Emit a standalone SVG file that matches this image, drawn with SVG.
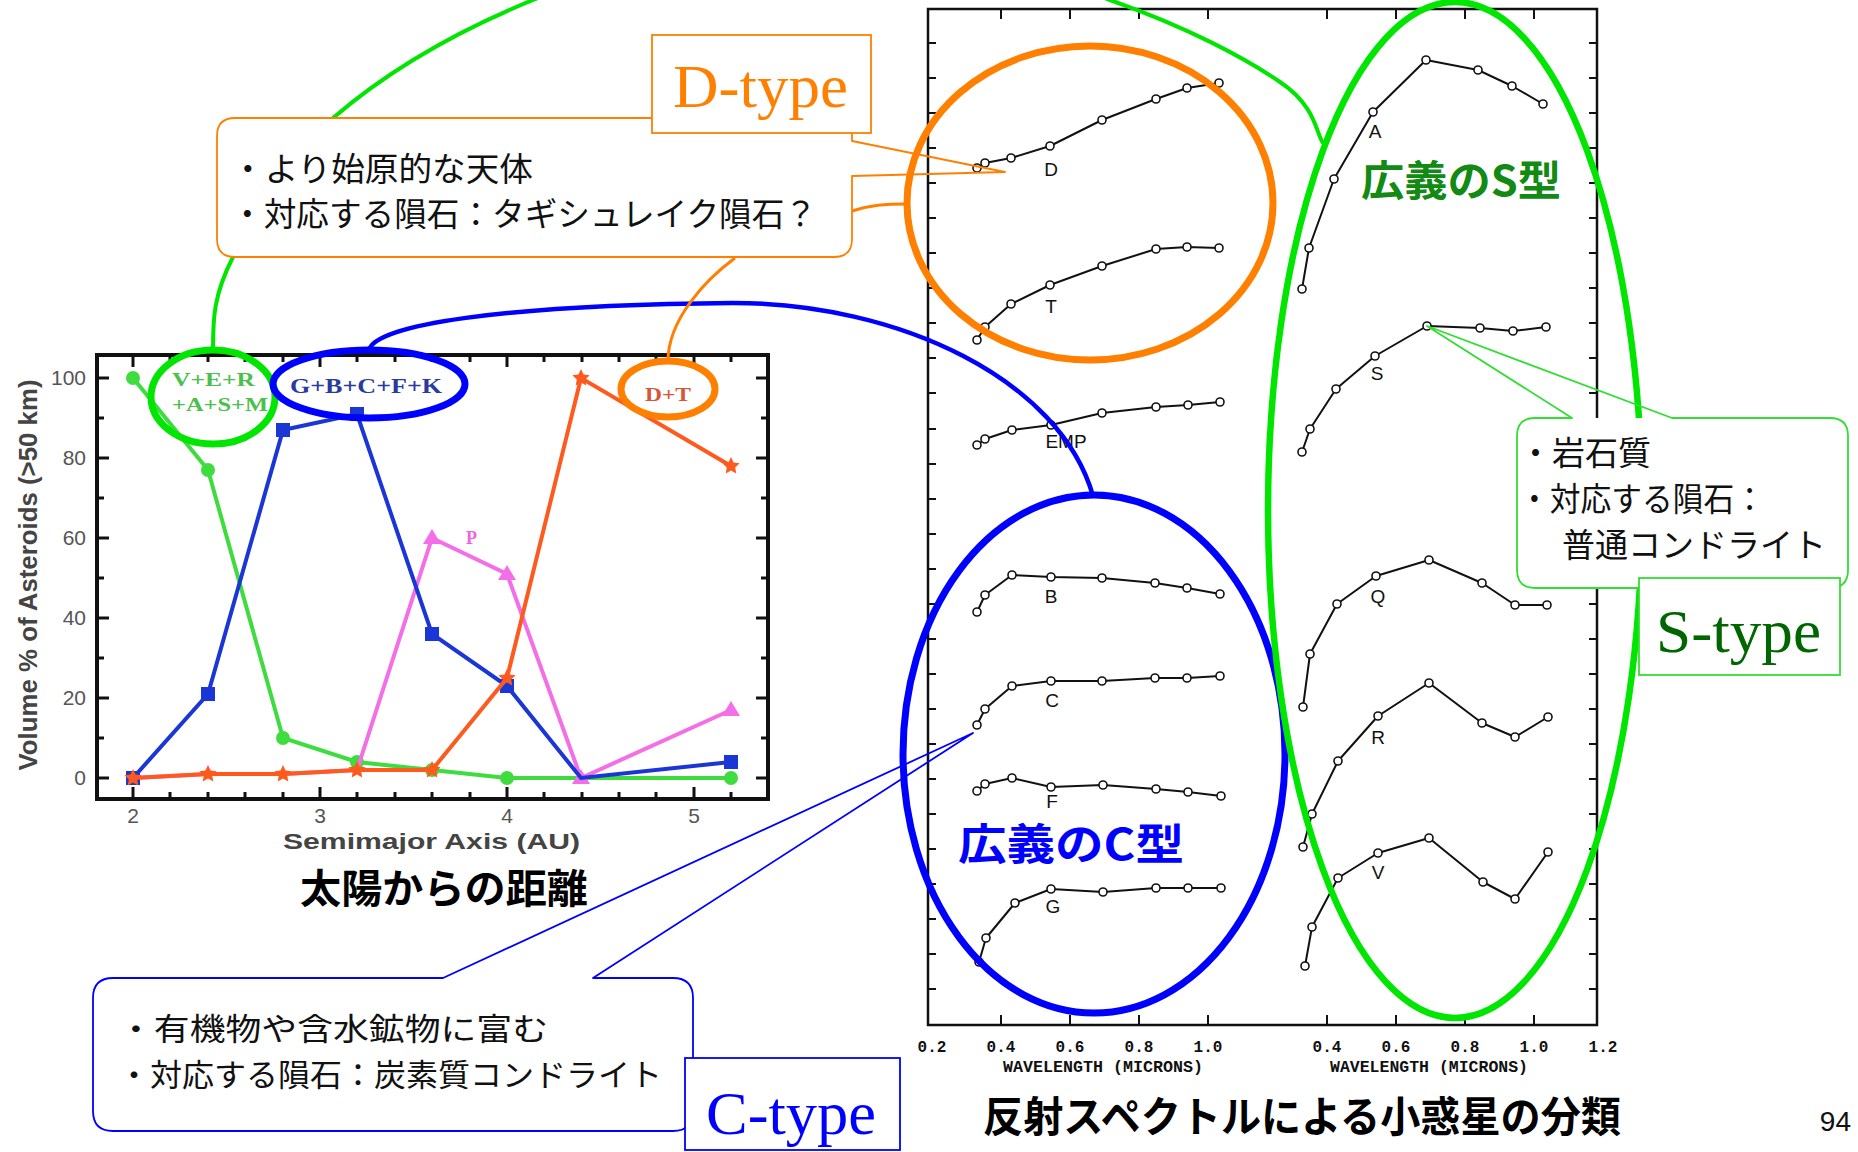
<svg xmlns="http://www.w3.org/2000/svg" width="1858" height="1152" viewBox="0 0 1858 1152">
<defs>
<style>
.jp{font-family:"Noto Sans CJK JP","Noto Sans CJK SC",sans-serif;}
.ax{font-family:"Liberation Sans",Arial,sans-serif;fill:#555;font-size:21px;}
.mono{font-family:"Liberation Mono","DejaVu Sans Mono",monospace;font-weight:bold;font-size:16px;fill:#111;}
.lbl{font-family:"Liberation Sans",Arial,sans-serif;font-size:19px;fill:#111;}
.sp{fill:none;stroke:#111;stroke-width:2;stroke-linejoin:round;}
.pt{fill:#fff;stroke:#111;stroke-width:1.6;}
.tick{stroke:#111;stroke-width:2;}
.ctick{stroke:#111;stroke-width:3;}
.serif{font-family:"Liberation Serif","Times New Roman",serif;}
.co{fill:none;stroke-width:1.8;stroke-linejoin:round;}
</style>
</defs>
<rect width="1858" height="1152" fill="#fff"/>

<!-- ============ CHART ============ -->
<g id="chart">
  <rect x="97" y="355" width="671" height="444" fill="#fff" stroke="#111" stroke-width="4"/>
  <g class="ctick">
    <path d="M97,778h12M97,738h7M97,698h12M97,658h7M97,618h12M97,578h7M97,538h12M97,498h7M97,458h12M97,418h7M97,378h12"/>
    <path d="M768,778h-12M768,738h-7M768,698h-12M768,658h-7M768,618h-12M768,578h-7M768,538h-12M768,498h-7M768,458h-12M768,418h-7M768,378h-12"/>
    <path d="M133,355v12M170,355v7M208,355v7M245,355v7M283,355v7M320,355v12M357,355v7M395,355v7M432,355v7M470,355v7M507,355v12M544,355v7M582,355v7M619,355v7M656,355v7M694,355v12M731,355v7"/>
    <path d="M133,799v-12M170,799v-7M208,799v-7M245,799v-7M283,799v-7M320,799v-12M357,799v-7M395,799v-7M432,799v-7M470,799v-7M507,799v-12M544,799v-7M582,799v-7M619,799v-7M656,799v-7M694,799v-12M731,799v-7"/>
  </g>
  <g class="ax" text-anchor="end">
    <text x="86" y="785">0</text><text x="86" y="705">20</text><text x="86" y="625">40</text>
    <text x="86" y="545">60</text><text x="86" y="465">80</text><text x="86" y="385">100</text>
  </g>
  <g class="ax" text-anchor="middle">
    <text x="133" y="823">2</text><text x="320" y="823">3</text><text x="507" y="823">4</text><text x="694" y="823">5</text>
  </g>
  <text x="283" y="849" font-family="Liberation Sans,Arial,sans-serif" font-weight="bold" font-size="22" fill="#444" textLength="297" lengthAdjust="spacingAndGlyphs">Semimajor Axis (AU)</text>
  <text transform="translate(37,575) rotate(-90)" text-anchor="middle" font-family="Liberation Sans,Arial,sans-serif" font-weight="bold" font-size="26" fill="#444" textLength="391" lengthAdjust="spacingAndGlyphs">Volume % of Asteroids (&gt;50 km)</text>

  <polyline points="133,378 208,470 283,738 357,762 432,770 507,778 581,778 731,778" fill="none" stroke="#3fdc3f" stroke-width="4"/>
  <g fill="#3fdc3f">
    <circle cx="133" cy="378" r="7"/><circle cx="208" cy="470" r="7"/><circle cx="283" cy="738" r="7"/>
    <circle cx="357" cy="762" r="7"/><circle cx="432" cy="770" r="7"/><circle cx="507" cy="778" r="7"/><circle cx="731" cy="778" r="7"/>
  </g>
  <polyline points="133,778 208,774 283,774 357,770 432,538 507,574 581,778 731,710" fill="none" stroke="#f46ee8" stroke-width="4"/>
  <g fill="#f46ee8">
    <path d="M432,529l9,15h-18z"/><path d="M507,565l9,15h-18z"/><path d="M581,769l9,15h-18z"/><path d="M731,701l9,15h-18z"/>
  </g>
  <text x="466" y="544" class="serif" font-weight="bold" font-size="18" fill="#ee66dd">P</text>
  <polyline points="133,778 208,694 283,430 357,414 432,634 507,686 581,778 731,762" fill="none" stroke="#1a36d6" stroke-width="4"/>
  <g fill="#1a36d6">
    <rect x="126" y="771" width="14" height="14"/><rect x="201" y="687" width="14" height="14"/><rect x="276" y="423" width="14" height="14"/>
    <rect x="350" y="407" width="14" height="14"/><rect x="425" y="627" width="14" height="14"/><rect x="500" y="679" width="14" height="14"/>
    <rect x="724" y="755" width="14" height="14"/>
  </g>
  <polyline points="133,778 208,774 283,774 357,770 432,770 507,678 581,378 731,466" fill="none" stroke="#ff5a1e" stroke-width="4"/>
  <g fill="#ff5a1e">
    <path d="M133,769l2.6,5.5 6,0.8-4.4,4.2 1.1,6-5.3-2.9-5.3,2.9 1.1-6-4.4-4.2 6-0.8z"/>
    <path d="M208,765l2.6,5.5 6,0.8-4.4,4.2 1.1,6-5.3-2.9-5.3,2.9 1.1-6-4.4-4.2 6-0.8z"/>
    <path d="M283,765l2.6,5.5 6,0.8-4.4,4.2 1.1,6-5.3-2.9-5.3,2.9 1.1-6-4.4-4.2 6-0.8z"/>
    <path d="M357,761l2.6,5.5 6,0.8-4.4,4.2 1.1,6-5.3-2.9-5.3,2.9 1.1-6-4.4-4.2 6-0.8z"/>
    <path d="M432,761l2.6,5.5 6,0.8-4.4,4.2 1.1,6-5.3-2.9-5.3,2.9 1.1-6-4.4-4.2 6-0.8z"/>
    <path d="M507,669l2.6,5.5 6,0.8-4.4,4.2 1.1,6-5.3-2.9-5.3,2.9 1.1-6-4.4-4.2 6-0.8z"/>
    <path d="M581,369l2.6,5.5 6,0.8-4.4,4.2 1.1,6-5.3-2.9-5.3,2.9 1.1-6-4.4-4.2 6-0.8z"/>
    <path d="M731,457l2.6,5.5 6,0.8-4.4,4.2 1.1,6-5.3-2.9-5.3,2.9 1.1-6-4.4-4.2 6-0.8z"/>
  </g>
  <text x="300" y="903" class="jp" font-weight="bold" font-size="40" fill="#000" textLength="288" lengthAdjust="spacingAndGlyphs">太陽からの距離</text>
</g>

<!-- ============ SPECTRA PANEL ============ -->
<g id="spectra">
  <path d="M928,9H1597V1025H928Z" fill="none" stroke="#111" stroke-width="2.5"/>
  <g class="tick">
    <path d="M928,43h8M928,78h8M928,113h8M928,148h8M928,183h8M928,218h8M928,253h8M928,288h8M928,323h8M928,358h8M928,393h8M928,429h8M928,464h8M928,499h8M928,534h8M928,569h8M928,604h8M928,639h8M928,674h8M928,709h8M928,744h8M928,779h8M928,814h8M928,849h8M928,884h8M928,919h8M928,954h8M928,989h8"/>
    <path d="M1597,43h-8M1597,78h-8M1597,113h-8M1597,148h-8M1597,183h-8M1597,218h-8M1597,253h-8M1597,288h-8M1597,323h-8M1597,358h-8M1597,393h-8M1597,429h-8M1597,464h-8M1597,499h-8M1597,534h-8M1597,569h-8M1597,604h-8M1597,639h-8M1597,674h-8M1597,709h-8M1597,744h-8M1597,779h-8M1597,814h-8M1597,849h-8M1597,884h-8M1597,919h-8M1597,954h-8M1597,989h-8"/>
    <path d="M1001,9v10M1070,9v10M1139,9v10M1208,9v10M1327,9v10M1396,9v10M1465,9v10M1534,9v10"/>
    <path d="M1001,1025v-10M1070,1025v-10M1139,1025v-10M1208,1025v-10M1327,1025v-10M1396,1025v-10M1465,1025v-10M1534,1025v-10"/>
  </g>
  <g class="mono" text-anchor="middle">
    <text x="932" y="1052">0.2</text><text x="1001" y="1052">0.4</text><text x="1070" y="1052">0.6</text><text x="1139" y="1052">0.8</text><text x="1208" y="1052">1.0</text>
    <text x="1327" y="1052">0.4</text><text x="1396" y="1052">0.6</text><text x="1465" y="1052">0.8</text><text x="1534" y="1052">1.0</text><text x="1603" y="1052">1.2</text>
  </g>
  <text x="1003" y="1072" class="mono" font-size="14" textLength="200" lengthAdjust="spacingAndGlyphs">WAVELENGTH (MICRONS)</text>
  <text x="1330" y="1072" class="mono" font-size="14" textLength="198" lengthAdjust="spacingAndGlyphs">WAVELENGTH (MICRONS)</text>

  <g class="sp">
    <polyline points="977,168 985,163 1011,158 1050,146 1102,120 1156,99 1187,88 1219,83"/>
    <polyline points="977,340 985,327 1011,304 1050,285 1102,266 1156,249 1187,247 1219,248"/>
    <polyline points="977,445 985,439 1012,430 1051,425 1102,413 1156,407 1188,405 1220,402"/>
    <polyline points="977,612 985,595 1012,575 1051,577 1102,578 1155,583 1187,588 1220,594"/>
    <polyline points="977,725 985,709 1012,686 1051,681 1102,681 1155,678 1187,678 1220,676"/>
    <polyline points="977,791 985,784 1012,778 1051,787 1103,785 1156,789 1188,792 1221,796"/>
    <polyline points="979,962 986,938 1015,903 1051,889 1103,892 1156,888 1188,888 1221,888"/>
    <polyline points="1302,289 1309,248 1334,179 1373,112 1426,60 1478,70 1512,86 1543,104"/>
    <polyline points="1302,452 1310,429 1336,389 1375,356 1427,326 1480,328 1513,331 1546,327"/>
    <polyline points="1303,707 1310,654 1337,604 1376,576 1429,560 1482,583 1515,605 1547,605"/>
    <polyline points="1303,847 1312,814 1338,761 1378,716 1429,683 1482,723 1515,737 1548,717"/>
    <polyline points="1305,966 1312,927 1338,878 1378,853 1429,838 1483,882 1515,899 1548,852"/>
  </g>
  <g class="pt">
    <circle cx="977" cy="168" r="4"/><circle cx="985" cy="163" r="4"/><circle cx="1011" cy="158" r="4"/><circle cx="1050" cy="146" r="4"/><circle cx="1102" cy="120" r="4"/><circle cx="1156" cy="99" r="4"/><circle cx="1187" cy="88" r="4"/><circle cx="1219" cy="83" r="4"/>
    <circle cx="977" cy="340" r="4"/><circle cx="985" cy="327" r="4"/><circle cx="1011" cy="304" r="4"/><circle cx="1050" cy="285" r="4"/><circle cx="1102" cy="266" r="4"/><circle cx="1156" cy="249" r="4"/><circle cx="1187" cy="247" r="4"/><circle cx="1219" cy="248" r="4"/>
    <circle cx="977" cy="445" r="4"/><circle cx="985" cy="439" r="4"/><circle cx="1012" cy="430" r="4"/><circle cx="1051" cy="425" r="4"/><circle cx="1102" cy="413" r="4"/><circle cx="1156" cy="407" r="4"/><circle cx="1188" cy="405" r="4"/><circle cx="1220" cy="402" r="4"/>
    <circle cx="977" cy="612" r="4"/><circle cx="985" cy="595" r="4"/><circle cx="1012" cy="575" r="4"/><circle cx="1051" cy="577" r="4"/><circle cx="1102" cy="578" r="4"/><circle cx="1155" cy="583" r="4"/><circle cx="1187" cy="588" r="4"/><circle cx="1220" cy="594" r="4"/>
    <circle cx="977" cy="725" r="4"/><circle cx="985" cy="709" r="4"/><circle cx="1012" cy="686" r="4"/><circle cx="1051" cy="681" r="4"/><circle cx="1102" cy="681" r="4"/><circle cx="1155" cy="678" r="4"/><circle cx="1187" cy="678" r="4"/><circle cx="1220" cy="676" r="4"/>
    <circle cx="977" cy="791" r="4"/><circle cx="985" cy="784" r="4"/><circle cx="1012" cy="778" r="4"/><circle cx="1051" cy="787" r="4"/><circle cx="1103" cy="785" r="4"/><circle cx="1156" cy="789" r="4"/><circle cx="1188" cy="792" r="4"/><circle cx="1221" cy="796" r="4"/>
    <circle cx="979" cy="962" r="4"/><circle cx="986" cy="938" r="4"/><circle cx="1015" cy="903" r="4"/><circle cx="1051" cy="889" r="4"/><circle cx="1103" cy="892" r="4"/><circle cx="1156" cy="888" r="4"/><circle cx="1188" cy="888" r="4"/><circle cx="1221" cy="888" r="4"/>
    <circle cx="1302" cy="289" r="4"/><circle cx="1309" cy="248" r="4"/><circle cx="1334" cy="179" r="4"/><circle cx="1373" cy="112" r="4"/><circle cx="1426" cy="60" r="4"/><circle cx="1478" cy="70" r="4"/><circle cx="1512" cy="86" r="4"/><circle cx="1543" cy="104" r="4"/>
    <circle cx="1302" cy="452" r="4"/><circle cx="1310" cy="429" r="4"/><circle cx="1336" cy="389" r="4"/><circle cx="1375" cy="356" r="4"/><circle cx="1427" cy="326" r="4"/><circle cx="1480" cy="328" r="4"/><circle cx="1513" cy="331" r="4"/><circle cx="1546" cy="327" r="4"/>
    <circle cx="1303" cy="707" r="4"/><circle cx="1310" cy="654" r="4"/><circle cx="1337" cy="604" r="4"/><circle cx="1376" cy="576" r="4"/><circle cx="1429" cy="560" r="4"/><circle cx="1482" cy="583" r="4"/><circle cx="1515" cy="605" r="4"/><circle cx="1547" cy="605" r="4"/>
    <circle cx="1303" cy="847" r="4"/><circle cx="1312" cy="814" r="4"/><circle cx="1338" cy="761" r="4"/><circle cx="1378" cy="716" r="4"/><circle cx="1429" cy="683" r="4"/><circle cx="1482" cy="723" r="4"/><circle cx="1515" cy="737" r="4"/><circle cx="1548" cy="717" r="4"/>
    <circle cx="1305" cy="966" r="4"/><circle cx="1312" cy="927" r="4"/><circle cx="1338" cy="878" r="4"/><circle cx="1378" cy="853" r="4"/><circle cx="1429" cy="838" r="4"/><circle cx="1483" cy="882" r="4"/><circle cx="1515" cy="899" r="4"/><circle cx="1548" cy="852" r="4"/>
  </g>
  <g class="lbl" text-anchor="middle">
    <text x="1051" y="176">D</text><text x="1051" y="313">T</text><text x="1066" y="448">EMP</text>
    <text x="1051" y="603">B</text><text x="1052" y="707">C</text><text x="1052" y="808">F</text><text x="1053" y="913">G</text>
    <text x="1375" y="138">A</text><text x="1377" y="380">S</text><text x="1378" y="603">Q</text><text x="1378" y="744">R</text><text x="1378" y="879">V</text>
  </g>
  <text x="983" y="1132" class="jp" font-weight="bold" font-size="42" fill="#000" textLength="638" lengthAdjust="spacingAndGlyphs">反射スペクトルによる小惑星の分類</text>
</g>

<!-- ============ GROUP ELLIPSES ============ -->
<g id="node-vera">
  <ellipse cx="213" cy="397" rx="62" ry="47" fill="none" stroke="#00e600" stroke-width="7"/>
  <text x="172" y="386" class="serif" font-weight="bold" font-size="19" fill="#4cc04c" textLength="83" lengthAdjust="spacingAndGlyphs">V+E+R</text>
  <text x="172" y="411" class="serif" font-weight="bold" font-size="19" fill="#4cc04c" textLength="96" lengthAdjust="spacingAndGlyphs">+A+S+M</text>
</g>
<g id="node-gbcfk">
  <ellipse cx="369" cy="384" rx="96" ry="34" fill="none" stroke="#0000ff" stroke-width="7"/>
  <text x="290" y="393" class="serif" font-weight="bold" font-size="21" fill="#2b3a9e" textLength="152" lengthAdjust="spacingAndGlyphs">G+B+C+F+K</text>
</g>
<g id="node-dt">
  <ellipse cx="668" cy="389" rx="47" ry="28" fill="none" stroke="#ff8000" stroke-width="7"/>
  <text x="645" y="401" class="serif" font-weight="bold" font-size="19" fill="#d8553a" textLength="46" lengthAdjust="spacingAndGlyphs">D+T</text>
</g>
<g id="node-d-ellipse">
  <ellipse cx="1090" cy="203" rx="183" ry="157" fill="none" stroke="#ff8000" stroke-width="7"/>
</g>
<g id="node-c-ellipse">
  <ellipse cx="1094" cy="754" rx="191" ry="259" fill="none" stroke="#0000ff" stroke-width="7"/>
  <text x="958" y="860" class="jp" font-weight="bold" font-size="43" fill="#0000ff" textLength="226" lengthAdjust="spacingAndGlyphs">広義のC型</text>
</g>
<g id="node-s-ellipse">
  <ellipse cx="1455" cy="510" rx="187" ry="508" fill="none" stroke="#00e600" stroke-width="6.5"/>
  <text x="1361" y="196" class="jp" font-weight="bold" font-size="42" fill="#138a13" textLength="200" lengthAdjust="spacingAndGlyphs">広義のS型</text>
</g>

<!-- ============ CONNECTORS ============ -->
<g id="connectors" fill="none">
  <path d="M213,350 C213,320 213,296 233,257 C253,218 283,161 333,118 C383,75 452,33 533,0 C614,-33 724,-80 820,-80 C916,-80 1033,-27 1110,0 C1187,27 1245,58 1280,82 C1316,106 1316,133 1323,143" stroke="#00e600" stroke-width="4"/>
  <path d="M369,350 C375,325 500,305 733,303 C900,303 1060,380 1093,496" stroke="#0000ff" stroke-width="4.5"/>
  <path d="M735,258 C705,280 668,320 668,361" stroke="#ff8000" stroke-width="3"/>
  <path d="M852,211 C870,205 885,204 907,204" stroke="#ff8000" stroke-width="3"/>
</g>

<!-- ============ CALLOUTS ============ -->
<g id="callout-d">
  <rect x="217" y="118" width="635" height="139" rx="18" fill="#fff"/>
  <path class="co" stroke="#ff8000" d="M235,118 H834 Q852,118 852,136 V141 L1005,172 L852,176 V239 Q852,257 834,257 H235 Q217,257 217,239 V136 Q217,118 235,118 Z"/>
  <text x="231" y="181" class="jp" font-size="33" fill="#111" textLength="302" lengthAdjust="spacingAndGlyphs">・より始原的な天体</text>
  <text x="231" y="226" class="jp" font-size="33" fill="#111" textLength="586" lengthAdjust="spacingAndGlyphs">・対応する隕石：タギシュレイク隕石？</text>
</g>
<g id="box-dtype">
  <rect x="652" y="35" width="219" height="98" fill="#fff" stroke="#ff8000" stroke-width="1.8"/>
  <text x="673" y="107" class="serif" font-size="62" fill="#ff8000" textLength="175" lengthAdjust="spacingAndGlyphs">D-type</text>
</g>

<g id="callout-s">
  <rect x="1517" y="418" width="331" height="170" rx="18" fill="#fff"/>
  <path class="co" stroke="#33dd33" d="M1535,418 H1572 L1427,326 L1672,418 H1830 Q1848,418 1848,436 V570 Q1848,588 1830,588 H1535 Q1517,588 1517,570 V436 Q1517,418 1535,418 Z"/>
  <text x="1519" y="465" class="jp" font-size="33" fill="#111">・岩石質</text>
  <text x="1519" y="511" class="jp" font-size="33" fill="#111" textLength="246" lengthAdjust="spacingAndGlyphs">・対応する隕石：</text>
  <text x="1562" y="557" class="jp" font-size="33" fill="#111">普通コンドライト</text>
</g>
<g id="box-stype">
  <rect x="1639" y="578" width="201" height="97" fill="#fff" stroke="#33dd33" stroke-width="1.8"/>
  <text x="1656" y="652" class="serif" font-size="62" fill="#006600" textLength="165" lengthAdjust="spacingAndGlyphs">S-type</text>
</g>

<g id="callout-c">
  <rect x="93" y="978" width="600" height="153" rx="20" fill="#fff"/>
  <path class="co" stroke="#0000ff" d="M113,978 H443 L973,733 L593,978 H673 Q693,978 693,998 V1111 Q693,1131 673,1131 H113 Q93,1131 93,1111 V998 Q93,978 113,978 Z"/>
  <text x="118" y="1040" class="jp" font-size="31" fill="#111" textLength="430" lengthAdjust="spacingAndGlyphs">・有機物や含水鉱物に富む</text>
  <text x="118" y="1086" class="jp" font-size="31" fill="#111" textLength="544" lengthAdjust="spacingAndGlyphs">・対応する隕石：炭素質コンドライト</text>
</g>
<g id="box-ctype">
  <rect x="685" y="1058" width="215" height="92" fill="#fff" stroke="#0000ff" stroke-width="1.8"/>
  <text x="706" y="1134" class="serif" font-size="62" fill="#0000ff" textLength="170" lengthAdjust="spacingAndGlyphs">C-type</text>
</g>

<text x="1851" y="1131" text-anchor="end" font-family="Liberation Sans,Arial,sans-serif" font-size="28" fill="#111">94</text>
</svg>
